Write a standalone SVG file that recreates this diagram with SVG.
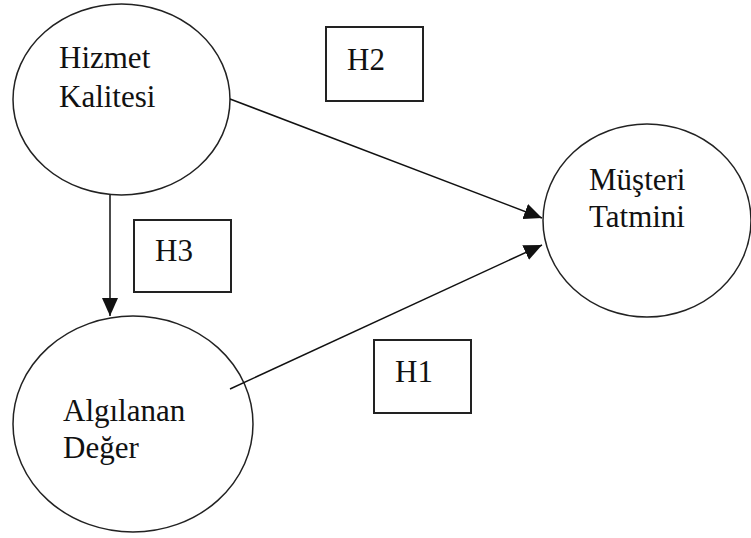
<svg xmlns="http://www.w3.org/2000/svg" width="751" height="538" viewBox="0 0 751 538">
<style>
.node{fill:#fff;stroke:#222;stroke-width:1.5}
.box{fill:#fff;stroke:#222;stroke-width:2}
.lbl{font-family:'Liberation Serif','Times New Roman','DejaVu Serif',serif;font-size:31px;fill:#111}
.conn{stroke:#111;stroke-width:1.5;fill:none}
</style>
<defs>
<marker id="arr" markerUnits="userSpaceOnUse" markerWidth="18" markerHeight="16" viewBox="0 0 18 16" refX="18" refY="8" orient="auto">
<path d="M0,0 L18,8 L0,16 Z" fill="#111"/>
</marker>
</defs>
<rect width="751" height="538" fill="#fff"/>
<g id="hizmet">
<ellipse class="node" cx="121.5" cy="99.5" rx="108.5" ry="95.5"/>
<text class="lbl" x="59" y="68">Hizmet</text>
<text class="lbl" x="59" y="107">Kalitesi</text>
</g>
<g id="algilanan">
<ellipse class="node" cx="133" cy="424" rx="120" ry="108"/>
<text class="lbl" x="63" y="421">Algılanan</text>
<text class="lbl" x="63" y="458">Değer</text>
</g>
<g id="musteri">
<ellipse class="node" cx="647" cy="220.5" rx="104" ry="96.5"/>
<text class="lbl" x="589" y="190">Müşteri</text>
<text class="lbl" x="589" y="227">Tatmini</text>
</g>
<g id="h2">
<rect class="box" x="326" y="27" width="97" height="74"/>
<text class="lbl" x="347" y="70">H2</text>
</g>
<g id="h3">
<rect class="box" x="134" y="220" width="97" height="72"/>
<text class="lbl" x="155" y="261">H3</text>
</g>
<g id="h1">
<rect class="box" x="374" y="340" width="97" height="73"/>
<text class="lbl" x="395" y="382">H1</text>
</g>
<g id="connectors">
<line class="conn" x1="110" y1="195" x2="110" y2="316" marker-end="url(#arr)"/>
<line class="conn" x1="230" y1="99" x2="542" y2="218" marker-end="url(#arr)"/>
<line class="conn" x1="230" y1="389" x2="542" y2="245" marker-end="url(#arr)"/>
</g>
</svg>
